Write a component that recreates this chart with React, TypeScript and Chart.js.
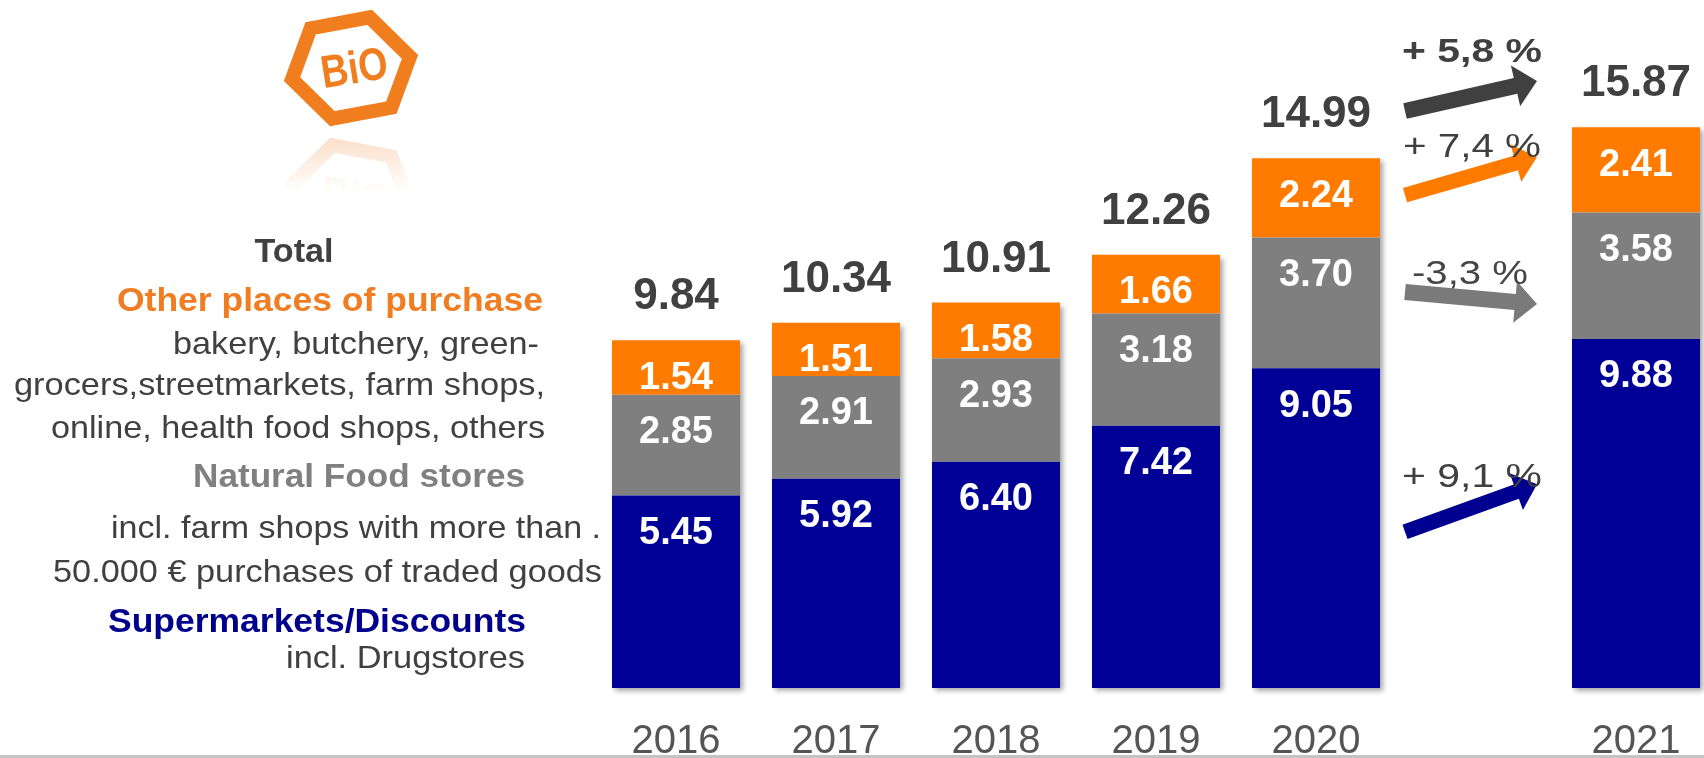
import React, { useEffect, useRef } from "react";
import { Chart, registerables } from "chart.js";

Chart.register(...registerables);

// ---------- data ----------
const years = ["2016", "2017", "2018", "2019", "2020", "", "2021"];
const supermarkets = [5.45, 5.92, 6.4, 7.42, 9.05, null, 9.88];
const naturalFood = [2.85, 2.91, 2.93, 3.18, 3.7, null, 3.58];
const otherPlaces = [1.54, 1.51, 1.58, 1.66, 2.24, null, 2.41];
const totals = [9.84, 10.34, 10.91, 12.26, 14.99, null, 15.87];

// growth 2020 -> 2021 (label, arrow tail value, arrow tip value, label value)
const changeLabels = ["+ 5,8 %", "+ 7,4 %", "-3,3 %", "+ 9,1 %"];
const changeTailValues = [16.33, 13.95, 11.21, 4.42];
const changeTipValues = [17.18, 15.03, 10.87, 5.77];
const changeLabelValues = [17.98, 15.3, 11.7, 5.94];

const legendLines = [
  "Total",
  "Other places of purchase",
  "bakery, butchery, green-",
  "grocers,streetmarkets, farm shops,",
  "online, health food shops, others",
  "Natural Food stores",
  "incl. farm shops with more than .",
  "50.000 € purchases of traded goods",
  "Supermarkets/Discounts",
  "incl. Drugstores",
];

// ---------- styles ----------
const FONT = "'Liberation Sans', Arial, Helvetica, sans-serif";
const BLUE = "#000096";
const GRAY = "#7f7f7f";
const ORANGE = "#ff7b00";
const DARK = "#404040";

// layout of legend lines: [alignX, centerY, targetWidth, size, bold, color, align]
const legendLayout: [number, number, number, number, boolean, string, CanvasTextAlign][] = [
  [294, 253, 79, 33, true, DARK, "center"],
  [543, 302, 426, 33, true, "#f07d22", "right"],
  [539, 345, 366, 32, false, DARK, "right"],
  [545, 386, 531, 32, false, DARK, "right"],
  [545, 429, 494, 32, false, DARK, "right"],
  [525, 478, 332, 33, true, "#808080", "right"],
  [601, 529, 490, 32, false, DARK, "right"],
  [602, 573, 549, 32, false, DARK, "right"],
  [526, 623, 418, 33, true, "#00008c", "right"],
  [525, 659, 239, 32, false, DARK, "right"],
];

const changeLayout = [
  { w: 140, bold: true, color: "#404040", arrow: "#404040", thick: 16 },
  { w: 138, bold: false, color: "#404040", arrow: ORANGE, thick: 15 },
  { w: 116, bold: false, color: "#454545", arrow: "#7a7a7a", thick: 16 },
  { w: 140, bold: false, color: "#404040", arrow: "#000090", thick: 15 },
];

function fitText(
  ctx: CanvasRenderingContext2D,
  text: string,
  x: number,
  y: number,
  align: CanvasTextAlign,
  font: string,
  color: string,
  targetW?: number
) {
  ctx.save();
  ctx.font = font;
  ctx.fillStyle = color;
  ctx.textBaseline = "middle";
  ctx.textAlign = align;
  const w = ctx.measureText(text).width;
  const sx = targetW ? targetW / w : 1;
  ctx.translate(x, y);
  ctx.scale(sx, 1);
  ctx.fillText(text, 0, 0);
  ctx.restore();
}

function drawArrow(
  ctx: CanvasRenderingContext2D,
  x1: number,
  y1: number,
  x2: number,
  y2: number,
  thick: number,
  color: string
) {
  const ang = Math.atan2(y2 - y1, x2 - x1);
  const len = Math.hypot(x2 - x1, y2 - y1);
  const headLen = 22;
  const headHalf = thick * 1.3;
  ctx.save();
  ctx.translate(x1, y1);
  ctx.rotate(ang);
  ctx.fillStyle = color;
  ctx.beginPath();
  ctx.moveTo(0, -thick / 2);
  ctx.lineTo(len - headLen, -thick / 2);
  ctx.lineTo(len - headLen, -headHalf);
  ctx.lineTo(len, 0);
  ctx.lineTo(len - headLen, headHalf);
  ctx.lineTo(len - headLen, thick / 2);
  ctx.lineTo(0, thick / 2);
  ctx.closePath();
  ctx.fill();
  ctx.restore();
}

function drawLogoShape(ctx: CanvasRenderingContext2D) {
  const cx = 351;
  const cy = 68;
  const r = 58;
  const rot = (-12 * Math.PI) / 180;
  ctx.save();
  ctx.translate(cx, cy);
  ctx.strokeStyle = "#f07d1e";
  ctx.lineWidth = 14;
  ctx.lineJoin = "miter";
  ctx.beginPath();
  for (let k = 0; k < 6; k++) {
    const a = rot + (k * Math.PI) / 3;
    const px = r * Math.cos(a) * 1.04;
    const py = r * Math.sin(a) * 0.92;
    if (k === 0) ctx.moveTo(px, py);
    else ctx.lineTo(px, py);
  }
  ctx.closePath();
  ctx.stroke();
  ctx.rotate((-9 * Math.PI) / 180);
  ctx.fillStyle = "#f07d1e";
  ctx.font = `bold 46px ${FONT}`;
  ctx.textAlign = "center";
  ctx.textBaseline = "middle";
  ctx.scale(0.82, 1);
  ctx.fillText("BiO", 4, 3);
  ctx.restore();
}

const decorPlugin = {
  id: "decor",
  beforeDraw(chart: any) {
    const ctx: CanvasRenderingContext2D = chart.ctx;
    ctx.save();
    ctx.fillStyle = "#ffffff";
    ctx.fillRect(0, 0, chart.width, chart.height);
    ctx.restore();
    // logo
    drawLogoShape(ctx);
    // reflection
    ctx.save();
    ctx.beginPath();
    ctx.rect(260, 132, 190, 62);
    ctx.clip();
    ctx.globalAlpha = 0.3;
    ctx.translate(0, 2 * 132);
    ctx.scale(1, -1);
    drawLogoShape(ctx);
    ctx.restore();
    ctx.save();
    const g = ctx.createLinearGradient(0, 132, 0, 192);
    g.addColorStop(0, "rgba(255,255,255,0.1)");
    g.addColorStop(1, "rgba(255,255,255,1)");
    ctx.fillStyle = g;
    ctx.fillRect(260, 132, 190, 62);
    ctx.restore();
  },
  beforeDatasetsDraw(chart: any) {
    const ctx: CanvasRenderingContext2D = chart.ctx;
    const xs = chart.scales.x;
    const ys = chart.scales.y;
    const meta = chart.getDatasetMeta(0);
    ctx.save();
    ctx.shadowColor = "rgba(0,0,0,0.35)";
    ctx.shadowBlur = 5;
    ctx.shadowOffsetX = 3;
    ctx.shadowOffsetY = 3;
    ctx.fillStyle = "#ffffff";
    totals.forEach((t, i) => {
      if (t == null) return;
      const el = meta.data[i];
      const w = el ? el.width : 128;
      const x = xs.getPixelForValue(i);
      const top = ys.getPixelForValue(t);
      const bottom = ys.getPixelForValue(0);
      ctx.fillRect(x - w / 2, top, w, bottom - top);
    });
    ctx.restore();
  },
  afterDatasetsDraw(chart: any) {
    const ctx: CanvasRenderingContext2D = chart.ctx;
    const xs = chart.scales.x;
    const ys = chart.scales.y;
    // segment values
    chart.data.datasets.forEach((ds: any, di: number) => {
      const meta = chart.getDatasetMeta(di);
      ds.data.forEach((v: number | null, i: number) => {
        if (v == null) return;
        const el = meta.data[i];
        fitText(ctx, v.toFixed(2), el.x, el.y + 38, "center", `bold 38px ${FONT}`, "#ffffff");
      });
    });
    // totals
    totals.forEach((t, i) => {
      if (t == null) return;
      const x = xs.getPixelForValue(i);
      const y = ys.getPixelForValue(t) - 43;
      fitText(ctx, t.toFixed(2), x, y, "center", `bold 44px ${FONT}`, DARK);
    });
  },
  afterDraw(chart: any) {
    const ctx: CanvasRenderingContext2D = chart.ctx;
    const xs = chart.scales.x;
    const ys = chart.scales.y;
    // legend text
    legendLines.forEach((txt, i) => {
      const [x, y, w, size, bold, color, align] = legendLayout[i];
      fitText(ctx, txt, x, y, align, `${bold ? "bold " : ""}${size}px ${FONT}`, color, w);
    });
    // change arrows + labels
    const tailX = xs.getPixelForValue(5) - 71;
    const tipX = xs.getPixelForValue(5) + 61;
    changeLabels.forEach((lbl, i) => {
      const L = changeLayout[i];
      drawArrow(
        ctx,
        tailX,
        ys.getPixelForValue(changeTailValues[i]),
        tipX,
        ys.getPixelForValue(changeTipValues[i]),
        L.thick,
        L.arrow
      );
    });
    changeLabels.forEach((lbl, i) => {
      const L = changeLayout[i];
      const cx = i === 2 ? xs.getPixelForValue(5) - 6 : xs.getPixelForValue(5) - 4;
      fitText(
        ctx,
        lbl,
        cx,
        ys.getPixelForValue(changeLabelValues[i]),
        "center",
        `${L.bold ? "bold " : ""}34px ${FONT}`,
        L.color,
        L.w
      );
    });
    // bottom rule
    ctx.save();
    ctx.fillStyle = "#c4c4c4";
    ctx.fillRect(0, 755, chart.width, 3);
    ctx.restore();
  },
};

export default function App() {
  const ref = useRef<HTMLCanvasElement>(null);
  useEffect(() => {
    document.documentElement.style.overflow = "hidden";
    document.body.style.overflow = "hidden";
    const chart = new Chart(ref.current!, {
      type: "bar",
      data: {
        labels: years,
        datasets: [
          { label: "Supermarkets/Discounts", data: supermarkets, backgroundColor: BLUE, borderWidth: 0 },
          { label: "Natural Food stores", data: naturalFood, backgroundColor: GRAY, borderWidth: 0 },
          { label: "Other places of purchase", data: otherPlaces, backgroundColor: ORANGE, borderWidth: 0 },
        ],
      },
      options: {
        responsive: false,
        animation: false,
        devicePixelRatio: 1,
        datasets: { bar: { categoryPercentage: 0.8, barPercentage: 1 } },
        layout: { padding: { left: 596, right: 14, top: 52, bottom: 0 } },
        plugins: { legend: { display: false }, tooltip: { enabled: false } },
        scales: {
          x: {
            stacked: true,
            offset: true,
            grid: { display: false, drawTicks: false },
            border: { display: false },
            ticks: {
              color: "#555555",
              font: { family: FONT, size: 40 },
              padding: 30,
              autoSkip: false,
              maxRotation: 0,
              minRotation: 0,
            },
            afterFit: (scale: any) => {
              scale.height = 70;
            },
          },
          y: {
            stacked: true,
            display: false,
            min: 0,
            max: 18,
          },
        },
      },
      plugins: [decorPlugin],
    });
    return () => chart.destroy();
  }, []);
  return (
    <div
      style={{
        position: "fixed",
        left: 0,
        top: 0,
        width: 1704,
        height: 758,
        overflow: "hidden",
        background: "#ffffff",
      }}
    >
      <canvas ref={ref} width={1730} height={758} style={{ display: "block" }} />
    </div>
  );
}
